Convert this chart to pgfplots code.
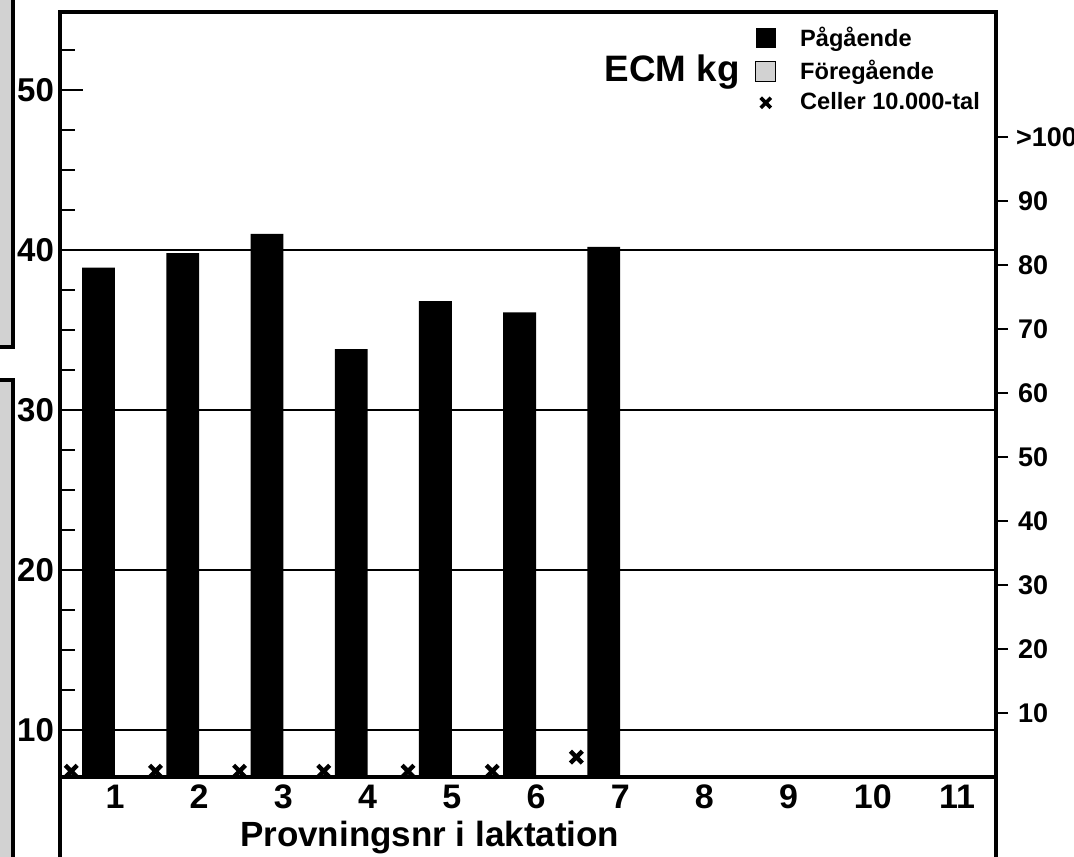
\documentclass[border=0pt]{standalone}
\usepackage{pgfplots}
\pgfplotsset{compat=1.18}
\usepackage{fontspec}
\setmainfont{Liberation Sans}
\newcommand\ff[1]{\fontsize{#1}{#1}\selectfont\bfseries}
\begin{document}
\begin{tikzpicture}
\useasboundingbox (0,0) rectangle (537pt,428pt);
% partial boxes at the left edge
\fill[gray!35] (-5pt,430pt) rectangle (6.5pt,254.5pt);
\draw[line width=2pt] (-5pt,254.5pt) -- (6.5pt,254.5pt) -- (6.5pt,430pt);
\fill[gray!35] (-5pt,238pt) rectangle (6.5pt,-2pt);
\draw[line width=2pt] (-5pt,238pt) -- (6.5pt,238pt) -- (6.5pt,-2pt);

\begin{axis}[name=main, at={(30pt,39.5pt)}, anchor=south west,
  scale only axis, width=468pt, height=382.5pt,
  xmin=0.347, xmax=11.463, ymin=7.06, ymax=54.875,
  /pgf/number format/assume math mode=true,
  axis line style={line width=2pt},
  xtick={1,...,11}, xtick style={draw=none},
  xticklabel style={font=\ff{17pt}, yshift=-0.5pt},
  ytick={10,20,30,40,50}, ytick pos=left,
  minor ytick={12.5,15,17.5,22.5,25,27.5,32.5,35,37.5,42.5,45,47.5,52.5},
  major tick length=11.5pt, minor tick length=7.5pt,
  tick style={line width=1pt, black},
  yticklabel style={font=\ff{16.5pt}, xshift=0.5pt},
  extra y ticks={10,20,30,40}, extra y tick labels={},
  extra y tick style={grid=major, major grid style={line width=0.8pt, black}},
  xlabel={Provningsnr i laktation},
  xlabel style={at={(axis description cs:0.395,0)}, anchor=base, yshift=-34.5pt, font=\ff{17.5pt}},
  legend style={draw=none, fill=none, font=\ff{11.8pt}, at={(axis description cs:0.7425,0.986)}, anchor=north west,
     row sep=1.2pt, inner sep=0pt, /tikz/every odd column/.append style={column sep=10pt}},
  legend cell align=left,
]
\addplot[ybar, bar width=0.39, bar shift=-0.195, fill=black, draw=none,
  legend image code/.code={\fill[black] (0pt,-5pt) rectangle (10pt,5pt);}]
  coordinates {(1,38.9) (2,39.8) (3,41.0) (4,33.8) (5,36.8) (6,36.1) (7,40.2)};
\addlegendentry{Pågående}
\addlegendimage{legend image code/.code={\filldraw[fill=gray!35, draw=black, line width=0.4pt] (0pt,-5pt) rectangle (10pt,5pt);}}
\addlegendentry{Föregående}
\addlegendimage{legend image code/.code={\draw[black, line width=1.8pt] plot[mark=x, mark size=3.6pt] coordinates {(5pt,0pt)};}}
\addlegendentry{Celler 10.000-tal}
\node[font=\ff{18.4pt}, anchor=base] at (axis description cs:0.654,0.9085) {ECM kg};
\end{axis}

\begin{axis}[at={(30pt,39.5pt)}, anchor=south west,
  scale only axis, width=468pt, height=382.5pt,
  xmin=0.347, xmax=11.463, ymin=0, ymax=119.5,
  /pgf/number format/assume math mode=true,
  axis x line=none, axis y line*=right,
  axis line style={line width=2pt},
  ytick={10,20,...,90}, extra y ticks={100}, extra y tick labels={\textgreater100},
  extra y tick style={yticklabel style={xshift=-1pt}},
  tick align=outside, major tick length=6pt,
  tick style={line width=1pt, black},
  yticklabel style={font=\ff{13.5pt}, xshift=1.5pt},
  clip=false,
]
\addplot[only marks, mark=x, mark size=4.2pt, line width=2.2pt, black]
  coordinates {(0.48,0.9) (1.48,0.9) (2.48,0.9) (3.48,0.9) (4.48,0.9) (5.48,0.9) (6.48,3.1)};
\end{axis}
\draw[line width=2pt] (main.south west) -- ++(0,-45pt);
\draw[line width=2pt] (main.south east) -- ++(0,-45pt);
\end{tikzpicture}
\end{document}
